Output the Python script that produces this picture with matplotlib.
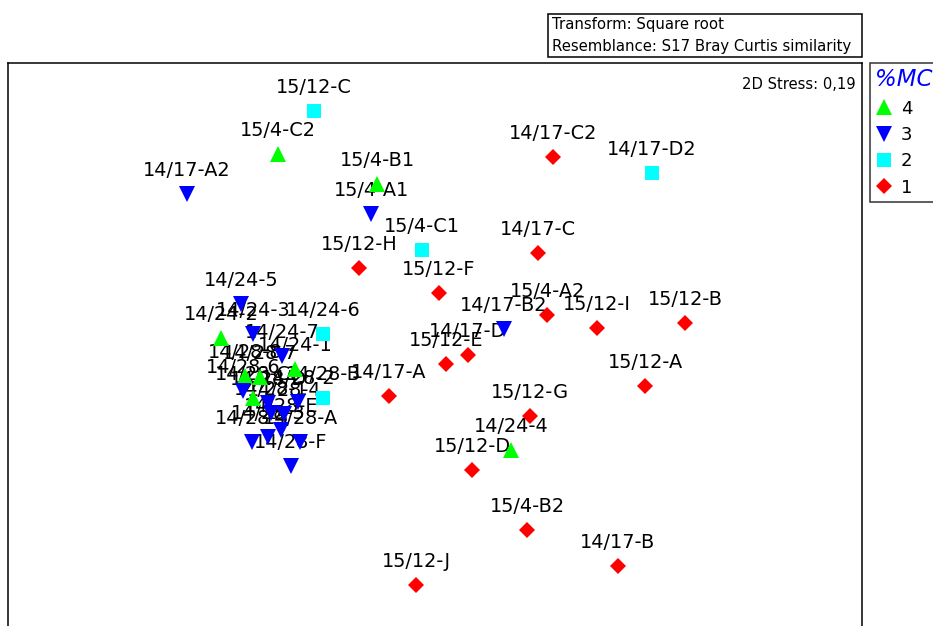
import matplotlib
matplotlib.use("Agg")
import matplotlib.pyplot as plt
from matplotlib.lines import Line2D
from matplotlib.patches import Rectangle

plt.rcParams['font.family'] = ['DejaVu Sans']

# Sample names, group (%MC) and ordination positions
names = [
    "14/17-C2", "14/17-C", "15/12-H", "15/12-F", "15/4-A2", "15/12-I", "15/12-B",
    "14/17-D", "15/12-E", "14/17-A", "15/12-A", "15/12-G", "15/12-D", "15/4-B2",
    "14/17-B", "15/12-J",
    "15/12-C", "14/17-D2", "15/4-C1", "14/24-6", "14/28-B",
    "15/4-C2", "15/4-B1", "14/24-4", "14/24-2", "14/24-1", "14/28-8", "14/28-7", "14/28-C",
    "14/17-A2", "15/4-A1", "14/17-B2", "14/24-5", "14/24-3", "14/24-7", "14/28-6",
    "14/28-2", "14/28-D", "14/28-1", "14/28-4", "14/28-E", "14/28-3", "14/28-5",
    "14/28-A", "14/28-F",
]
groups = [
    1, 1, 1, 1, 1, 1, 1, 1, 1, 1, 1, 1, 1, 1, 1, 1,
    2, 2, 2, 2, 2,
    4, 4, 4, 4, 4, 4, 4, 4,
    3, 3, 3, 3, 3, 3, 3, 3, 3, 3, 3, 3, 3, 3, 3, 3,
]
mds_x = [
    553, 538, 359, 439, 547, 597, 685, 468, 446, 389, 645, 530, 472, 527, 618, 416,
    314, 652, 422, 323, 323,
    278, 377, 511, 221, 295, 245, 260, 253,
    187, 371, 504, 241, 253, 282, 243, 298, 268, 271, 284, 281, 268, 252, 300, 291,
]
mds_y = [
    157, 253, 268, 293, 315, 328, 323, 355, 364, 396, 386, 416, 470, 530, 566, 585,
    111, 173, 250, 334, 398,
    154, 184, 450, 338, 369, 376, 377, 398,
    194, 214, 329, 304, 334, 356, 391, 402, 403, 413, 414, 430, 437, 442, 442, 466,
]

legend_order = [4, 3, 2, 1]
group_marker = {4: '^', 3: 'v', 2: 's', 1: 'D'}
group_color = {4: '#00ff00', 3: '#0000ff', 2: '#00ffff', 1: '#ff0000'}
group_size = {4: 11.5, 3: 11.5, 2: 9.5, 1: 8.2}

W, H = 933, 626
fig = plt.figure(figsize=(W / 100, H / 100), dpi=100)

ax_l, ax_r, ax_t, ax_b = 8, 862, 63, 640
ax = fig.add_axes([ax_l / W, (H - ax_b) / H, (ax_r - ax_l) / W, (ax_b - ax_t) / H])
ax.set_xlim(ax_l, ax_r)
ax.set_ylim(ax_b, ax_t)
ax.set_xticks([])
ax.set_yticks([])
for s in ax.spines.values():
    s.set_linewidth(1.1)
    s.set_color('black')

for g in legend_order:
    xs = [x for x, gg in zip(mds_x, groups) if gg == g]
    ys = [y for y, gg in zip(mds_y, groups) if gg == g]
    ax.plot(xs, ys, linestyle='none', marker=group_marker[g], color=group_color[g],
            markersize=group_size[g], markeredgewidth=0, zorder=3)

for n, x, y in zip(names, mds_x, mds_y):
    ax.annotate(n, (x, y), xytext=(0, 13), textcoords='offset points',
                ha='center', va='baseline', fontsize=13.9, color='black', zorder=2)

ax.text(0.993, 0.962, "2D Stress: 0,19", transform=ax.transAxes, ha='right',
        va='center', fontsize=10.6)

# Transform / resemblance box
fig.patches.append(Rectangle((548 / W, (H - 57) / H), (862 - 548) / W, (57 - 14) / H,
                             transform=fig.transFigure, fill=False, edgecolor='black',
                             linewidth=1.1))
fig.text(552 / W, (H - 25) / H, "Transform: Square root", ha='left', va='center',
         fontsize=10.7)
fig.text(552 / W, (H - 47) / H, "Resemblance: S17 Bray Curtis similarity", ha='left',
         va='center', fontsize=10.7)

handles = [Line2D([], [], linestyle='none', marker=group_marker[g], color=group_color[g],
                  markersize=group_size[g] * 1.05, markeredgewidth=0) for g in legend_order]
leg = fig.legend(handles, [str(g) for g in legend_order], loc='upper left',
                 bbox_to_anchor=(870 / W, (H - 63) / H), title='%MC    ', alignment='left',
                 title_fontproperties={'style': 'italic', 'size': 16.5},
                 fontsize=13, frameon=True, fancybox=False, edgecolor='black',
                 borderaxespad=0, borderpad=0.3, handlelength=1.0, handletextpad=0.4,
                 labelspacing=0.46)
leg.get_title().set_color('#0000ff')
leg.get_frame().set_linewidth(1.1)

fig.savefig("out.png", dpi=100)
